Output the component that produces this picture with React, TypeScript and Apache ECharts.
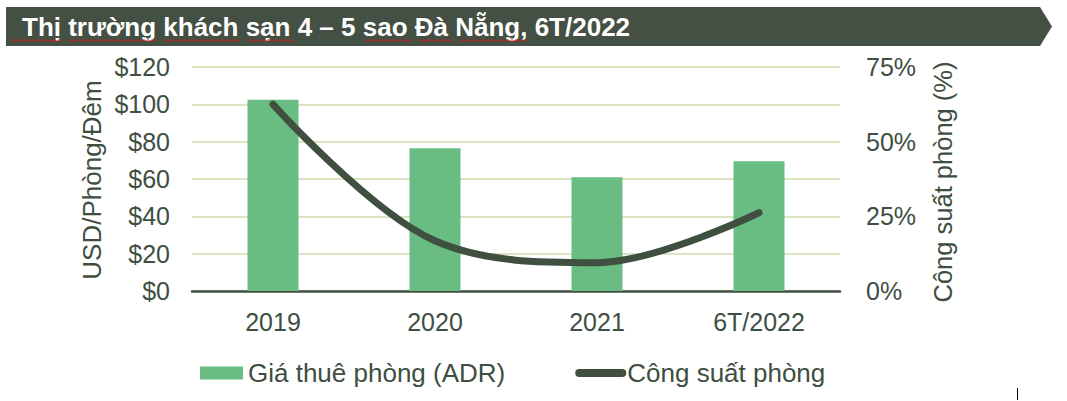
import React, { useEffect, useRef } from "react";
import * as echarts from "echarts";

const categories = ["2019", "2020", "2021", "6T/2022"];
const adrValues = [102.5, 76.5, 61, 69.5];
const occupancyValues = [62.5, 16.8, 9.5, 26.2];
const leftTicks = { min: 0, max: 120, interval: 20 };
const rightTicks = { min: 0, max: 75, interval: 25 };

const TITLE = "Thị trường khách sạn 4 – 5 sao Đà Nẵng, 6T/2022";
const ADR_NAME = "Giá thuê phòng (ADR)";
const OCC_NAME = "Công suất phòng";
const LEFT_NAME = "USD/Phòng/Đêm";
const RIGHT_NAME = "Công suất phòng (%)";

// spell-check underline spans in the title (decoration)
const squiggleSpans: [number, number][] = [
  [11, 62],
  [68, 157],
  [164, 240],
  [248, 295],
  [365, 412],
  [419, 453],
  [460, 526],
];

const FONT = "'Liberation Sans', Arial, sans-serif";
const TEXT = "#3E4E3F";
const BAR = "#69BC82";
const LINE = "#3F4F40";
const GRID = "#DCE3C3";
const BANNER = "#435043";

function wave(x0: number, x1: number, y: number): number[][] {
  const pts: number[][] = [];
  let up = true;
  for (let x = x0; x <= x1; x += 2) {
    pts.push([x, up ? y - 1 : y + 1]);
    up = !up;
  }
  return pts;
}

export default function App() {
  const ref = useRef<HTMLDivElement>(null);
  useEffect(() => {
    if (!ref.current) return;
    const chart = echarts.init(ref.current, null, { renderer: "svg" });
    chart.setOption({
      animation: false,
      textStyle: { fontFamily: FONT },
      grid: { left: 192, right: 227, top: 67, bottom: 110, containLabel: false },
      legend: {
        left: 200,
        top: 360,
        padding: 0,
        itemWidth: 43,
        itemHeight: 13,
        itemGap: 70,
        textStyle: { color: TEXT, fontSize: 26, fontFamily: FONT },
        data: [
          { name: ADR_NAME, icon: "rect" },
          {
            name: OCC_NAME,
            itemStyle: { opacity: 0 },
            lineStyle: { width: 8, cap: "round", color: LINE },
          },
        ],
      },
      xAxis: {
        type: "category",
        data: categories,
        axisLine: { lineStyle: { color: LINE, width: 2.5 } },
        axisTick: { show: false },
        axisLabel: { color: TEXT, fontSize: 25, margin: 18, fontFamily: FONT },
      },
      yAxis: [
        {
          type: "value",
          min: leftTicks.min,
          max: leftTicks.max,
          interval: leftTicks.interval,
          axisLine: { show: false },
          axisTick: { show: false },
          splitLine: { lineStyle: { color: GRID, width: 2 } },
          axisLabel: {
            color: TEXT,
            fontSize: 25,
            margin: 22,
            fontFamily: FONT,
            formatter: (v: number) => "$" + v,
          },
        },
        {
          type: "value",
          min: rightTicks.min,
          max: rightTicks.max,
          interval: rightTicks.interval,
          axisLine: { show: false },
          axisTick: { show: false },
          splitLine: { show: false },
          axisLabel: {
            color: TEXT,
            fontSize: 25,
            margin: 26,
            fontFamily: FONT,
            formatter: (v: number) => v + "%",
          },
        },
      ],
      series: [
        {
          name: ADR_NAME,
          type: "bar",
          data: adrValues,
          barWidth: 51,
          itemStyle: { color: BAR },
          yAxisIndex: 0,
        },
        {
          name: OCC_NAME,
          type: "line",
          data: occupancyValues,
          yAxisIndex: 1,
          smooth: 0.35,
          symbol: "none",
          lineStyle: { color: LINE, width: 7, cap: "round" },
          itemStyle: { color: LINE },
        },
      ],
      graphic: [
        {
          type: "polygon",
          shape: {
            points: [
              [6, 7],
              [1040, 7],
              [1052, 26.5],
              [1040, 46],
              [6, 46],
            ],
          },
          style: { fill: BANNER },
          z: 0,
        },
        {
          type: "text",
          x: 22,
          y: 27,
          style: {
            text: TITLE,
            fill: "#FFFFFF",
            font: "bold 26px " + FONT,
            verticalAlign: "middle",
            align: "left",
          },
          z: 1,
        },
        ...squiggleSpans.map(([a, b]) => ({
          type: "polyline",
          shape: { points: wave(a, b, 40.5) },
          style: { stroke: "#E01010", lineWidth: 1, fill: null },
          z: 2,
        })),
        {
          type: "text",
          x: 92,
          y: 180,
          rotation: Math.PI / 2,
          style: {
            text: LEFT_NAME,
            fill: TEXT,
            font: "26px " + FONT,
            align: "center",
            verticalAlign: "middle",
          },
        },
        {
          type: "text",
          x: 943,
          y: 182,
          rotation: Math.PI / 2,
          style: {
            text: RIGHT_NAME,
            fill: TEXT,
            font: "25.5px " + FONT,
            align: "center",
            verticalAlign: "middle",
          },
        },
        {
          type: "line",
          shape: { x1: 1017.5, y1: 388, x2: 1017.5, y2: 400 },
          style: { stroke: "#000000", lineWidth: 1 },
        },
      ],
    });
    return () => chart.dispose();
  }, []);
  return (
    <div
      ref={ref}
      style={{ position: "fixed", left: 0, top: 0, width: 1067, height: 401, background: "#fff" }}
    />
  );
}
